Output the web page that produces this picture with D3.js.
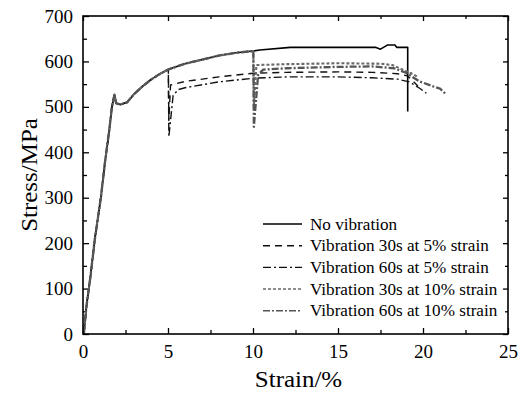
<!DOCTYPE html>
<html>
<head>
  <script src="https://cdn.jsdelivr.net/npm/d3@7/dist/d3.min.js"></script>
</head>
<body style="margin:0; background:#fff">
  <svg id="chart"></svg>
  <script>
    // shared loading curve up to 10% strain
    var loadStrain = [0.05, 0.2, 0.45, 0.7, 1.05, 1.3, 1.55, 1.7, 1.8, 1.85, 1.95, 2.2, 2.6, 3.0, 3.5, 4.0, 4.5, 5.0, 6.0, 7.0, 8.0, 9.0, 10.0];
    var loadStress = [0, 60, 130, 210, 300, 380, 450, 500, 518, 527, 508, 505, 510, 528, 545, 560, 572, 582, 595, 604, 613, 619, 623];

    // continuation of each test after its branch point
    var noVibStrain = [10.4, 12.2, 17.2, 17.5, 17.9, 18.35, 18.45, 19.1, 19.1];
    var noVibStress = [625, 631, 631, 627, 636, 636, 631, 631, 490];

    var v30s5Strain = [5.02, 5.05, 5.15, 6, 8, 10, 12, 15, 17, 18.5, 19.1, 19.7];
    var v30s5Stress = [582, 470, 548, 556, 566, 574, 576, 577, 576, 573, 568, 546];

    var v60s5Strain = [5.02, 5.05, 5.3, 5.6, 6, 8, 10, 12, 15, 17, 18.5, 19.2, 19.8, 20.2];
    var v60s5Stress = [582, 434, 525, 538, 542, 555, 563, 566, 566, 564, 561, 555, 541, 530];

    var v30s10Strain = [10.02, 10.05, 10.2, 12, 15, 17.5, 18.2, 18.8, 19.3, 19.7];
    var v30s10Stress = [623, 500, 592, 594, 596, 595, 592, 582, 574, 566];

    var v60s10Strain = [10.02, 10.05, 10.3, 10.6, 12, 15, 17, 18.3, 19, 19.8, 20.6, 21, 21.35];
    var v60s10Stress = [623, 456, 570, 582, 585, 588, 589, 585, 575, 556, 545, 540, 528];

    var seriesNames = ['No vibration', 'Vibration 30s at 5% strain', 'Vibration 60s at 5% strain',
      'Vibration 30s at 10% strain', 'Vibration 60s at 10% strain'];
    var branchAt = [10, 5, 5, 10, 10];

    var xTicks = [0, 5, 10, 15, 20, 25];
    var yTicks = [0, 100, 200, 300, 400, 500, 600, 700];

    var FONT = '"Liberation Serif", "Times New Roman"';

    var styles = [
      { color: '#000', width: 1.6, dash: null },
      { color: '#111', width: 1.4, dash: '7,5' },
      { color: '#111', width: 1.4, dash: '8,3,2,3' },
      { color: '#6a6a6a', width: 2.1, dash: '3,2' },
      { color: '#555', width: 2.3, dash: '7,2,2,2' }
    ];

    function build(strain, stress, cut) {
      var pts = [];
      loadStrain.forEach(function (s, i) { if (s <= cut) pts.push([s, loadStress[i]]); });
      strain.forEach(function (s, i) { pts.push([s, stress[i]]); });
      return pts;
    }

    var series = [
      build(noVibStrain, noVibStress, branchAt[0]),
      build(v30s5Strain, v30s5Stress, branchAt[1]),
      build(v60s5Strain, v60s5Stress, branchAt[2]),
      build(v30s10Strain, v30s10Stress, branchAt[3]),
      build(v60s10Strain, v60s10Stress, branchAt[4])
    ];

    var W = 526, H = 394;
    var margin = { top: 16, right: 18, bottom: 60, left: 83 };
    var width = W - margin.left - margin.right,
      height = H - margin.top - margin.bottom;

    var x = d3.scaleLinear().domain([0, 25]).range([0, width]);
    var y = d3.scaleLinear().domain([0, 700]).range([height, 0]);

    var svg = d3.select('#chart')
      .attr('width', W)
      .attr('height', H)
      .append('g')
      .attr('transform', 'translate(' + margin.left + ',' + margin.top + ')');

    // ticks point inward on all four sides, minor ones halfway
    var xMinor = d3.range(2.5, 25, 5), yMinor = d3.range(50, 700, 100);
    function ticks(g, axisFn, scale, vals, size, labels) {
      var ax = axisFn(scale).tickValues(vals).tickSize(size).tickPadding(9);
      if (!labels) ax.tickFormat('');
      g.call(ax);
      g.select('.domain').remove();
      g.selectAll('.tick line').attr('stroke', '#000').attr('stroke-width', 1.3);
      g.selectAll('.tick text').attr('fill', '#000')
        .style('font-family', FONT).style('font-size', '19px');
    }
    var bottom = svg.append('g').attr('transform', 'translate(0,' + height + ')');
    ticks(bottom, d3.axisBottom, x, xTicks, -6, true);
    ticks(svg.append('g').attr('transform', 'translate(0,' + height + ')'), d3.axisBottom, x, xMinor, -4, false);
    ticks(svg.append('g'), d3.axisTop, x, xTicks, -5, false);
    ticks(svg.append('g'), d3.axisTop, x, xMinor, -3, false);
    var left = svg.append('g');
    ticks(left, d3.axisLeft, y, yTicks, -6, true);
    ticks(svg.append('g'), d3.axisLeft, y, yMinor, -4, false);
    ticks(svg.append('g').attr('transform', 'translate(' + width + ',0)'), d3.axisRight, y, yTicks, -5, false);
    ticks(svg.append('g').attr('transform', 'translate(' + width + ',0)'), d3.axisRight, y, yMinor, -3, false);
    bottom.selectAll('.tick text').attr('dy', '0.8em');
    left.selectAll('.tick text').attr('dx', '-1');

    var line = d3.line().x(d => x(d[0])).y(d => y(d[1]));

    var order = [0, 1, 2, 3, 4];
    svg.selectAll('path.curve')
      .data(order)
      .enter()
      .append('path')
      .attr('class', 'curve')
      .attr('fill', 'none')
      .attr('stroke-linejoin', 'round')
      .attr('d', i => line(series[i]))
      .attr('stroke', i => styles[i].color)
      .attr('stroke-width', i => styles[i].width)
      .attr('stroke-dasharray', i => styles[i].dash);

    // frame
    svg.append('rect')
      .attr('width', width)
      .attr('height', height)
      .attr('fill', 'none')
      .attr('stroke', '#000')
      .attr('stroke-width', 1.6);

    // legend
    var leg = svg.append('g').attr('transform', 'translate(' + (263 - margin.left) + ',' + (224 - margin.top) + ')');
    var rows = leg.selectAll('g').data(order).enter().append('g')
      .attr('transform', i => 'translate(0,' + (i * 21.7) + ')');
    rows.append('line')
      .attr('x1', 0).attr('x2', 39)
      .attr('stroke', i => styles[i].color)
      .attr('stroke-width', i => Math.min(styles[i].width, 1.5))
      .attr('stroke-dasharray', i => styles[i].dash);
    rows.append('text')
      .attr('class', 'legtext')
      .attr('x', 47)
      .attr('dy', '0.35em')
      .style('font-family', FONT)
      .style('font-size', '16px')
      .text(i => seriesNames[i]);

    // axis titles
    svg.append('text')
      .attr('class', 'title')
      .attr('x', width / 2 + 3)
      .attr('y', height + 53)
      .attr('text-anchor', 'middle')
      .style('font-family', FONT)
      .style('font-size', '24px')
      .text('Strain/%');

    svg.append('text')
      .attr('class', 'title')
      .attr('transform', 'translate(-46,' + (height / 2) + ') rotate(-90)')
      .attr('text-anchor', 'middle')
      .style('font-family', FONT)
      .style('font-size', '24px')
      .text('Stress/MPa');

    // source lettering runs a little wide; widen legend and titles to match
    function widen(sel, k) {
      sel.each(function () {
        var n = this.getComputedTextLength();
        d3.select(this).attr('textLength', n * k).attr('lengthAdjust', 'spacingAndGlyphs');
      });
    }
    widen(svg.selectAll('text.legtext'), 1.07);
    widen(svg.selectAll('text.title'), 1.04);
  </script>
</body>
</html>
